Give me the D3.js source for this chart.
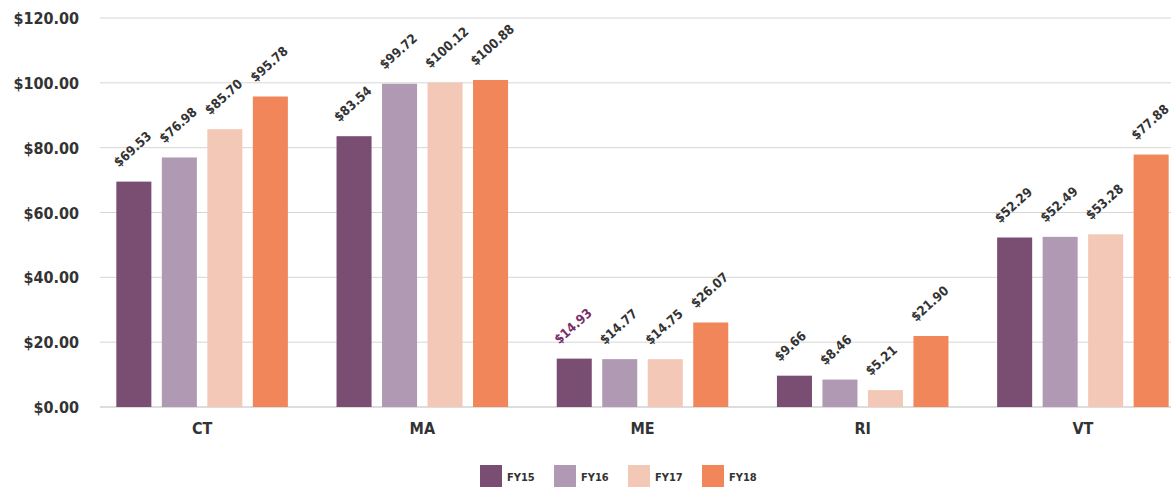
<!DOCTYPE html>
<html>
<head>
<meta charset="utf-8">
<script src="https://cdn.jsdelivr.net/npm/d3@7"></script>
<style>
  body { margin: 0; background: #fff; }
  text { font-family: "DejaVu Sans Condensed", "DejaVu Sans", sans-serif; font-weight: bold; fill: #333; }
</style>
</head>
<body>
<svg id="chart" width="1171" height="490"></svg>
<script>
const states = ['CT', 'MA', 'ME', 'RI', 'VT'];
const years = ['FY15', 'FY16', 'FY17', 'FY18'];
const fy15 = [69.53, 83.54, 14.93, 9.66, 52.29];
const fy16 = [76.98, 99.72, 14.77, 8.46, 52.49];
const fy17 = [85.70, 100.12, 14.75, 5.21, 53.28];
const fy18 = [95.78, 100.88, 26.07, 21.90, 77.88];
const yTicks = [0, 20, 40, 60, 80, 100, 120];
const colors = ['#7a4e72', '#b09ab3', '#f3c8b6', '#f1865a'];

const series = [fy15, fy16, fy17, fy18];
const svg = d3.select('#chart');

const x = d3.scaleBand().domain(states).range([92, 1193]);
const xInner = d3.scaleBand().domain(years)
  .range([x.bandwidth() / 2 - 91, x.bandwidth() / 2 + 91])
  .paddingInner(0.23).paddingOuter(0.115);
const y = d3.scaleLinear().domain([0, 120]).range([407, 18]);
const fmt = d => '$' + d3.format(',.2f')(d);

// gridlines
svg.append('g')
  .selectAll('line')
  .data(yTicks)
  .join('line')
  .attr('x1', 100).attr('x2', 1171)
  .attr('y1', d => y(d)).attr('y2', d => y(d))
  .attr('stroke', d => d === 0 ? '#bbb' : '#d6d6d6')
  .attr('stroke-width', 1);

// y axis labels
const yAxis = svg.append('g')
  .attr('transform', 'translate(79,0)')
  .call(d3.axisLeft(y).tickValues(yTicks).tickFormat(fmt).tickSize(0).tickPadding(0));
yAxis.select('.domain').remove();
yAxis.selectAll('text').style('font-size', '16px').attr('dy', '0.35em');

// x axis labels
const xAxis = svg.append('g')
  .attr('transform', 'translate(0,420)')
  .call(d3.axisBottom(x).tickSize(0).tickPadding(0));
xAxis.select('.domain').remove();
xAxis.selectAll('text').style('font-size', '16px').attr('dy', '0.9em');

// bars
const groups = svg.append('g')
  .selectAll('g')
  .data(states)
  .join('g')
  .attr('transform', d => `translate(${x(d)},0)`);

const cells = groups.selectAll('g')
  .data((s, i) => years.map((yr, k) => ({ yr, k, v: series[k][i], state: s })))
  .join('g');

cells.append('rect')
  .attr('x', d => xInner(d.yr))
  .attr('width', xInner.bandwidth())
  .attr('y', d => y(d.v))
  .attr('height', d => y(0) - y(d.v))
  .attr('fill', d => colors[d.k]);

cells.append('text')
  .attr('transform', d => `translate(${xInner(d.yr) + xInner.bandwidth() / 2 - 15},${y(d.v) - 14}) rotate(-42)`)
  .style('font-size', '13px')
  .style('fill', d => d.state === 'ME' && d.k === 0 ? '#7a2e6a' : '#333')
  .text(d => fmt(d.v));

// legend
const legend = svg.append('g')
  .attr('transform', 'translate(480,465)')
  .selectAll('g')
  .data(years)
  .join('g')
  .attr('transform', (d, i) => `translate(${i * 74},0)`);
legend.append('rect')
  .attr('width', 22).attr('height', 22)
  .attr('fill', (d, i) => colors[i]);
legend.append('text')
  .attr('x', 27).attr('y', 16)
  .style('font-size', '11px')
  .text(d => d);
</script>
</body>
</html>
